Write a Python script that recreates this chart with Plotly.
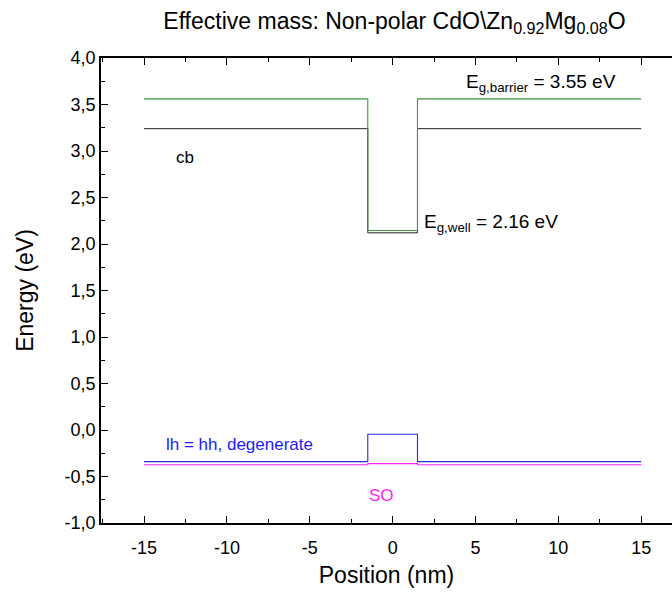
import plotly.graph_objects as go

# Data (position in nm, energy in eV)
pos = [-15, -1.5, -1.5, 1.5, 1.5, 15]
cb_E = [3.24, 3.24, 2.12, 2.12, 3.24, 3.24]
gap_E = [3.56, 3.56, 2.145, 2.145, 3.56, 3.56]
lhhh_E = [-0.34, -0.34, -0.045, -0.045, -0.34, -0.34]
so_E = [-0.373, -0.373, -0.362, -0.362, -0.373, -0.373]

x_ticks = [-15, -10, -5, 0, 5, 10, 15]
x_labels = ["-15", "-10", "-5", "0", "5", "10", "15"]
y_ticks = [-1.0, -0.5, 0.0, 0.5, 1.0, 1.5, 2.0, 2.5, 3.0, 3.5, 4.0]
y_labels = ["-1,0", "-0,5", "0,0", "0,5", "1,0", "1,5", "2,0", "2,5", "3,0", "3,5", "4,0"]

FONT = "Liberation Sans, Arial, sans-serif"

fig = go.Figure()
fig.add_trace(go.Scatter(x=pos, y=cb_E, mode="lines", line=dict(color="#222222", width=1), showlegend=False))
fig.add_trace(go.Scatter(x=pos, y=gap_E, mode="lines", line=dict(color="#3c963c", width=1.1), showlegend=False))
fig.add_trace(go.Scatter(x=pos, y=so_E, mode="lines", line=dict(color="#ff22ff", width=1.1), showlegend=False))
fig.add_trace(go.Scatter(x=pos, y=lhhh_E, mode="lines", line=dict(color="#2a2ad8", width=1.1), showlegend=False))

annots = [
    dict(x=-12.53, y=2.935, text="cb", color="black", size=17, xanchor="center"),
    dict(x=1.75, y=2.23, text="E<sub>g,well</sub> = 2.16 eV", color="black", size=19, xanchor="left"),
    dict(x=4.3, y=3.73, text="E<sub>g,barrier</sub> = 3.55 eV", color="black", size=19, xanchor="left"),
    dict(x=-13.8, y=-0.16, text="lh = hh, degenerate", color="#1a1aff", size=17, xanchor="left"),
    dict(x=-0.7, y=-0.70, text="SO", color="#ff22ff", size=17, xanchor="center"),
]
for a in annots:
    fig.add_annotation(x=a["x"], y=a["y"], text=a["text"], showarrow=False,
                       xanchor=a["xanchor"], yanchor="middle",
                       font=dict(family=FONT, size=a["size"], color=a["color"]))

fig.update_layout(
    width=672, height=593,
    margin=dict(l=101, r=0, t=58, b=70),
    plot_bgcolor="white", paper_bgcolor="white",
    title=dict(text="Effective mass: Non-polar CdO\\Zn<sub>0.92</sub>Mg<sub>0.08</sub>O",
               x=0.587, xanchor="center", y=0.965, yanchor="middle",
               font=dict(family=FONT, size=23, color="black")),
    xaxis=dict(range=[-17.6, 16.86], tickvals=x_ticks, ticktext=x_labels, ticks="inside", ticklen=7, tickwidth=1.3,
               tickcolor="black", showline=True, linecolor="black", linewidth=1.5, mirror="ticks",
               showgrid=False, zeroline=False, ticklabelstandoff=8,
               minor=dict(dtick=2.5, ticks="inside", ticklen=4, tickcolor="black", tickwidth=1.3, showgrid=False),
               tickfont=dict(family=FONT, size=18, color="black"),
               title=dict(text="Position (nm)", font=dict(family=FONT, size=23, color="black"), standoff=10)),
    yaxis=dict(range=[-1.0, 4.0], tickvals=y_ticks, ticktext=y_labels, ticks="inside", ticklen=7, tickwidth=1.3,
               tickcolor="black", showline=True, linecolor="black", linewidth=1.5, mirror=False,
               showgrid=False, zeroline=False,
               minor=dict(dtick=0.25, ticks="inside", ticklen=4, tickcolor="black", tickwidth=1.3, showgrid=False),
               tickfont=dict(family=FONT, size=18, color="black"),
               title=dict(text="Energy (eV)", font=dict(family=FONT, size=23, color="black"), standoff=25)),
)

fig.write_html("out.html")
